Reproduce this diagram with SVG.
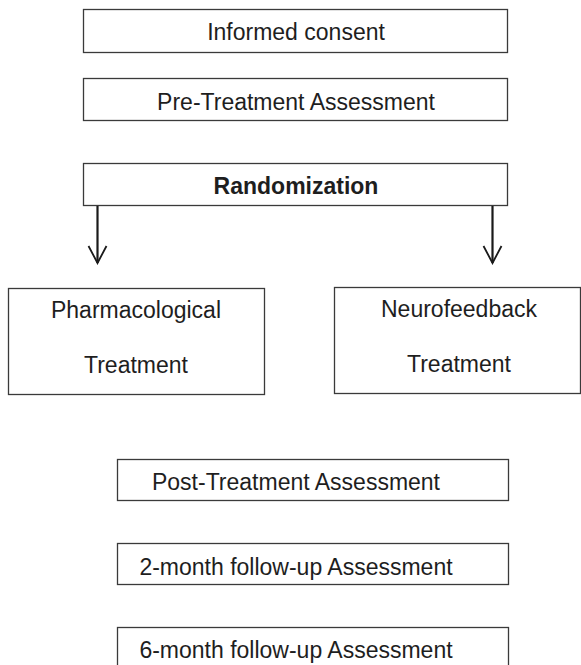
<svg xmlns="http://www.w3.org/2000/svg" width="581" height="665" viewBox="0 0 581 665">
<defs>
<marker id="ah" markerWidth="22" markerHeight="22" refX="18" refY="11" orient="auto" markerUnits="userSpaceOnUse" viewBox="0 0 22 22">
<path d="M1,2 L18,11 L1,20" fill="none" stroke="#1a1a1a" stroke-width="1.8"/>
</marker>
</defs>
<style>
.box{fill:#fff;stroke:#3a3a3a;stroke-width:1.3}
.t{font-family:"Liberation Sans",Arial,sans-serif;font-size:23px;fill:#1e1e1e;text-anchor:middle}
.b{font-weight:bold}
.conn{stroke:#1a1a1a;stroke-width:2.2;fill:none}
</style>
<rect width="581" height="665" fill="#fff"/>
<g id="informed-consent">
<rect class="box" x="83.5" y="9.5" width="424" height="43"/>
<text class="t" x="296" y="40">Informed consent</text>
</g>
<g id="pre-treatment">
<rect class="box" x="83.5" y="78.5" width="424" height="42"/>
<text class="t" x="296" y="110">Pre-Treatment Assessment</text>
</g>
<g id="randomization">
<rect class="box" x="83.5" y="163.5" width="424" height="42"/>
<text class="t b" x="296" y="194">Randomization</text>
</g>
<g id="pharmacological">
<rect class="box" x="8.5" y="288.5" width="256" height="106"/>
<text class="t" x="136" y="318">Pharmacological</text>
<text class="t" x="136" y="373">Treatment</text>
</g>
<g id="neurofeedback">
<rect class="box" x="334.5" y="287.5" width="246" height="106"/>
<text class="t" x="459" y="317">Neurofeedback</text>
<text class="t" x="459" y="372">Treatment</text>
</g>
<g id="post-treatment">
<rect class="box" x="117.5" y="459.5" width="391" height="41"/>
<text class="t" x="296" y="490">Post-Treatment Assessment</text>
</g>
<g id="two-month">
<rect class="box" x="117.5" y="543.5" width="391" height="41"/>
<text class="t" x="296" y="575">2-month follow-up Assessment</text>
</g>
<g id="six-month">
<rect class="box" x="117.5" y="627.5" width="391" height="45"/>
<text class="t" x="296" y="658">6-month follow-up Assessment</text>
</g>
<g id="connectors">
<line class="conn" x1="97.5" y1="206" x2="97.5" y2="263" marker-end="url(#ah)"/>
<line class="conn" x1="492.5" y1="206" x2="492.5" y2="263" marker-end="url(#ah)"/>
</g>
</svg>
